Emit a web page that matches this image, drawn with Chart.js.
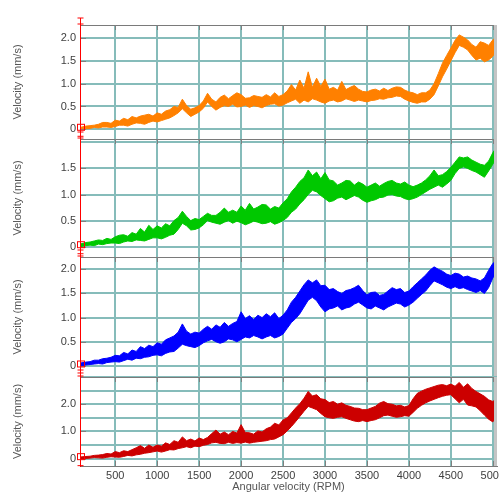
<!DOCTYPE html>
<html>
<head>
<meta charset="utf-8">
<script src="https://cdn.jsdelivr.net/npm/chart.js@4.4.1/dist/chart.umd.min.js"></script>
<style>
  html, body { margin: 0; padding: 0; background: #fff; }
  #wrap { position: relative; width: 499px; height: 496px; overflow: hidden; }
  #wrap canvas { position: absolute; left: 0; }
</style>
</head>
<body>
<div id="wrap">
  <canvas id="p1"></canvas>
  <canvas id="p2"></canvas>
  <canvas id="p3"></canvas>
  <canvas id="p4"></canvas>
</div>
<script>
// shared x samples (RPM)
const rpm = [
  80, 150, 200, 250, 300, 350, 400, 450, 500, 550,
  600, 650, 700, 750, 800, 850, 900, 950, 1000, 1050,
  1100, 1150, 1200, 1250, 1300, 1350, 1400, 1450, 1500, 1550,
  1600, 1650, 1700, 1750, 1800, 1850, 1900, 1950, 2000, 2050,
  2100, 2150, 2200, 2250, 2300, 2350, 2400, 2450, 2500, 2550,
  2600, 2650, 2700, 2750, 2800, 2850, 2900, 2950, 3000, 3050,
  3100, 3150, 3200, 3250, 3300, 3350, 3400, 3450, 3500, 3550,
  3600, 3650, 3700, 3750, 3800, 3850, 3900, 3950, 4000, 4050,
  4100, 4150, 4200, 4250, 4300, 4350, 4400, 4450, 4500, 4550,
  4600, 4650, 4700, 4750, 4800, 4850, 4900, 4950, 5000, 5050
];

// each trace is a noisy band: lower and upper edge of the signal, mm/s
const orangeLow = [
  0.00, 0.01, 0.02, 0.04, 0.03, 0.05, 0.05, 0.04, 0.06, 0.09,
  0.09, 0.07, 0.11, 0.14, 0.13, 0.11, 0.15, 0.18, 0.16, 0.19,
  0.22, 0.25, 0.30, 0.36, 0.45, 0.36, 0.28, 0.33, 0.38, 0.46,
  0.60, 0.50, 0.42, 0.48, 0.52, 0.50, 0.55, 0.49, 0.50, 0.53,
  0.48, 0.52, 0.50, 0.47, 0.52, 0.55, 0.56, 0.51, 0.53, 0.58,
  0.62, 0.66, 0.57, 0.64, 0.60, 0.67, 0.64, 0.60, 0.57, 0.62,
  0.64, 0.60, 0.62, 0.67, 0.64, 0.61, 0.64, 0.62, 0.60, 0.63,
  0.64, 0.67, 0.66, 0.69, 0.70, 0.73, 0.72, 0.66, 0.62, 0.59,
  0.57, 0.60, 0.60, 0.66, 0.76, 0.95, 1.15, 1.32, 1.50, 1.68,
  1.84, 1.80, 1.74, 1.62, 1.52, 1.56, 1.48, 1.52, 1.60, 1.78
];
const orangeHigh = [
  0.04, 0.07, 0.08, 0.09, 0.11, 0.15, 0.15, 0.13, 0.20, 0.18,
  0.24, 0.21, 0.28, 0.25, 0.29, 0.31, 0.33, 0.29, 0.36, 0.33,
  0.40, 0.43, 0.50, 0.48, 0.66, 0.52, 0.44, 0.47, 0.52, 0.62,
  0.79, 0.66, 0.60, 0.70, 0.75, 0.67, 0.74, 0.80, 0.76, 0.68,
  0.69, 0.74, 0.72, 0.70, 0.76, 0.71, 0.80, 0.72, 0.76, 0.84,
  0.98, 0.86, 1.08, 0.90, 1.26, 0.92, 1.12, 0.94, 1.10, 0.88,
  0.92, 0.86, 1.05, 0.87, 0.92, 0.96, 0.88, 0.83, 0.82, 0.86,
  0.88, 0.84, 0.90, 0.85, 0.90, 0.93, 0.92, 0.86, 0.82, 0.80,
  0.76, 0.80, 0.80, 0.86, 1.00, 1.22, 1.45, 1.62, 1.78, 1.95,
  2.07, 2.02, 1.96, 1.86, 1.80, 1.92, 1.89, 1.84, 1.96, 2.04
];

const greenLow = [
  0.00, 0.02, 0.03, 0.02, 0.05, 0.04, 0.06, 0.07, 0.07, 0.06,
  0.09, 0.11, 0.10, 0.13, 0.12, 0.11, 0.14, 0.17, 0.17, 0.15,
  0.18, 0.22, 0.24, 0.33, 0.45, 0.40, 0.32, 0.33, 0.36, 0.42,
  0.50, 0.47, 0.45, 0.43, 0.47, 0.50, 0.45, 0.49, 0.46, 0.42,
  0.45, 0.49, 0.47, 0.44, 0.45, 0.48, 0.43, 0.46, 0.50, 0.56,
  0.66, 0.72, 0.82, 0.90, 1.00, 1.08, 1.05, 0.98, 0.92, 0.86,
  0.88, 0.93, 0.95, 0.90, 0.94, 0.98, 0.95, 0.89, 0.85, 0.88,
  0.90, 0.94, 0.95, 0.99, 1.00, 0.97, 0.96, 0.92, 0.90, 0.92,
  0.95, 1.00, 1.05, 1.10, 1.14, 1.18, 1.14, 1.20, 1.27, 1.40,
  1.50, 1.53, 1.50, 1.46, 1.43, 1.38, 1.33, 1.45, 1.58, 1.72
];
const greenHigh = [
  0.05, 0.08, 0.09, 0.11, 0.13, 0.12, 0.16, 0.14, 0.19, 0.22,
  0.23, 0.20, 0.27, 0.24, 0.35, 0.28, 0.41, 0.33, 0.40, 0.36,
  0.44, 0.40, 0.50, 0.56, 0.68, 0.58, 0.50, 0.54, 0.52, 0.58,
  0.64, 0.60, 0.60, 0.66, 0.74, 0.66, 0.70, 0.66, 0.78, 0.70,
  0.83, 0.72, 0.76, 0.81, 0.80, 0.72, 0.77, 0.74, 0.84, 0.92,
  1.05, 1.14, 1.25, 1.32, 1.47, 1.36, 1.43, 1.30, 1.42, 1.28,
  1.26, 1.18, 1.22, 1.27, 1.26, 1.18, 1.24, 1.20, 1.14, 1.18,
  1.22, 1.16, 1.21, 1.25, 1.27, 1.22, 1.20, 1.24, 1.18, 1.15,
  1.18, 1.22, 1.28, 1.36, 1.47, 1.36, 1.38, 1.44, 1.52, 1.62,
  1.72, 1.70, 1.72, 1.66, 1.62, 1.58, 1.56, 1.64, 1.80, 1.92
];

const blueLow = [
  0.00, 0.02, 0.03, 0.04, 0.05, 0.04, 0.07, 0.08, 0.09, 0.08,
  0.11, 0.14, 0.12, 0.16, 0.15, 0.18, 0.19, 0.22, 0.23, 0.21,
  0.26, 0.29, 0.30, 0.37, 0.45, 0.42, 0.40, 0.38, 0.42, 0.48,
  0.52, 0.55, 0.50, 0.47, 0.50, 0.56, 0.54, 0.50, 0.55, 0.60,
  0.58, 0.63, 0.60, 0.56, 0.60, 0.63, 0.58, 0.61, 0.66, 0.78,
  0.90, 0.98, 1.08, 1.22, 1.36, 1.42, 1.35, 1.22, 1.12, 1.18,
  1.20, 1.24, 1.16, 1.20, 1.22, 1.28, 1.32, 1.26, 1.20, 1.18,
  1.24, 1.20, 1.16, 1.22, 1.26, 1.30, 1.28, 1.22, 1.26, 1.32,
  1.40, 1.48, 1.55, 1.66, 1.76, 1.72, 1.68, 1.63, 1.60, 1.64,
  1.60, 1.62, 1.58, 1.55, 1.52, 1.56, 1.50, 1.62, 1.82, 1.96
];
const blueHigh = [
  0.06, 0.08, 0.09, 0.12, 0.12, 0.15, 0.16, 0.18, 0.22, 0.21,
  0.28, 0.25, 0.33, 0.30, 0.40, 0.36, 0.43, 0.40, 0.48, 0.45,
  0.54, 0.58, 0.62, 0.70, 0.87, 0.72, 0.66, 0.70, 0.68, 0.76,
  0.82, 0.76, 0.85, 0.80, 0.90, 0.82, 0.88, 0.92, 1.12, 0.98,
  1.04, 0.96, 1.05, 1.00, 1.08, 1.02, 1.10, 0.98, 1.05, 1.16,
  1.32, 1.42, 1.55, 1.68, 1.78, 1.72, 1.78, 1.66, 1.67, 1.58,
  1.60, 1.54, 1.50, 1.56, 1.58, 1.62, 1.67, 1.56, 1.47, 1.52,
  1.53, 1.46, 1.48, 1.55, 1.62, 1.58, 1.60, 1.52, 1.55, 1.64,
  1.72, 1.80, 1.88, 1.98, 2.05, 2.00, 1.96, 1.90, 1.87, 1.92,
  1.90, 1.84, 1.86, 1.82, 1.80, 1.76, 1.82, 1.98, 2.12, 2.20
];

const redLow = [
  0.00, 0.01, 0.02, 0.04, 0.03, 0.02, 0.05, 0.07, 0.06, 0.05,
  0.08, 0.12, 0.10, 0.14, 0.16, 0.20, 0.22, 0.25, 0.28, 0.24,
  0.28, 0.33, 0.32, 0.37, 0.40, 0.44, 0.40, 0.46, 0.44, 0.49,
  0.52, 0.58, 0.60, 0.56, 0.55, 0.60, 0.56, 0.59, 0.57, 0.61,
  0.57, 0.60, 0.62, 0.64, 0.66, 0.70, 0.72, 0.80, 0.88, 1.02,
  1.18, 1.36, 1.55, 1.74, 1.92, 1.86, 1.80, 1.66, 1.54, 1.50,
  1.48, 1.52, 1.54, 1.48, 1.43, 1.38, 1.36, 1.40, 1.36, 1.40,
  1.43, 1.50, 1.58, 1.60, 1.56, 1.52, 1.54, 1.58, 1.56, 1.70,
  1.85, 1.96, 2.05, 2.12, 2.18, 2.24, 2.29, 2.33, 2.35, 2.20,
  2.05, 2.18, 1.97, 1.94, 1.90, 1.76, 1.60, 1.45, 1.35, 1.60
];
const redHigh = [
  0.06, 0.08, 0.09, 0.12, 0.13, 0.15, 0.19, 0.17, 0.26, 0.22,
  0.29, 0.26, 0.33, 0.40, 0.48, 0.38, 0.50, 0.42, 0.50, 0.46,
  0.58, 0.52, 0.66, 0.60, 0.80, 0.66, 0.72, 0.65, 0.76, 0.70,
  0.78, 0.92, 1.05, 0.90, 0.98, 0.88, 1.00, 0.94, 1.25, 0.96,
  0.95, 0.90, 1.02, 0.98, 1.10, 1.16, 1.30, 1.24, 1.42, 1.50,
  1.68, 1.86, 2.02, 2.22, 2.47, 2.30, 2.35, 2.20, 2.17, 2.06,
  2.10, 2.00, 2.05, 1.96, 1.92, 1.86, 1.85, 1.80, 1.80, 1.86,
  1.92, 2.04, 2.10, 2.02, 2.00, 1.94, 1.96, 1.90, 1.95, 2.20,
  2.40, 2.48, 2.55, 2.60, 2.65, 2.70, 2.72, 2.68, 2.74, 2.66,
  2.80, 2.62, 2.75, 2.58, 2.47, 2.38, 2.29, 2.16, 2.10, 2.22
];

// RPM ticks shared by all panels
const rpmTicks = [500, 1000, 1500, 2000, 2500, 3000, 3500, 4000, 4500, 5000];

// grid lines and labelled values on each velocity axis
const panel1Grid = [0, 0.5, 1, 1.5, 2];
const panel2Grid = [0, 0.5, 1, 1.5, 2];
const panel3Grid = [0, 0.5, 1, 1.5, 2];
const panel4Grid = [0, 0.5, 1, 1.5, 2, 2.5, 3];
const panel1Ticks = [0, 0.5, 1, 1.5, 2];
const panel2Ticks = [0, 0.5, 1, 1.5];
const panel3Ticks = [0, 0.5, 1, 1.5, 2];
const panel4Ticks = [0, 1, 2];

const FONT = "'Liberation Sans', Arial, sans-serif";
const GRID = '#86bcba';
const PAD_TOP = 8;

const panels = [
  { id: 'p1', top: 25,  bottom: 139, min: -0.213, max: 2.287, color: '#ff8000', lo: orangeLow, hi: orangeHigh, grid: panel1Grid, ticks: panel1Ticks },
  { id: 'p2', top: 139, bottom: 257, min: -0.197, max: 2.063, color: '#00c800', lo: greenLow,  hi: greenHigh,  grid: panel2Grid, ticks: panel2Ticks },
  { id: 'p3', top: 257, bottom: 377, min: -0.228, max: 2.254, color: '#0000ff', lo: blueLow,   hi: blueHigh,   grid: panel3Grid, ticks: panel3Ticks },
  { id: 'p4', top: 377, bottom: 466, min: -0.27,  max: 3.0,   color: '#cc0000', lo: redLow,    hi: redHigh,    grid: panel4Grid, ticks: panel4Ticks, last: true }
];

// frame, inward tick marks and the red cursor on the left edge
const framePlugin = {
  id: 'frame',
  afterDatasetsDraw(chart) {
    const { ctx, chartArea: a, scales } = chart;
    const opts = chart.options.plugins.frame;
    ctx.save();
    // top border
    ctx.strokeStyle = '#7a7a7a';
    ctx.lineWidth = 1;
    ctx.beginPath();
    ctx.moveTo(a.left, a.top + 0.5);
    ctx.lineTo(a.right, a.top + 0.5);
    ctx.stroke();
    // right edge
    ctx.fillStyle = '#c4c4c4';
    ctx.fillRect(a.right - 3, a.top, 3, a.bottom - a.top);
    // x tick marks pointing inward
    ctx.strokeStyle = '#808080';
    ctx.beginPath();
    rpmTicks.forEach(v => {
      const px = Math.round(scales.x.getPixelForValue(v)) + 0.5;
      ctx.moveTo(px, a.top); ctx.lineTo(px, a.top + 5);
      if (opts.last) { ctx.moveTo(px, a.bottom); ctx.lineTo(px, a.bottom - 5); }
    });
    // y tick marks at labelled values
    opts.ticks.forEach(v => {
      const py = Math.round(scales.y.getPixelForValue(v)) + 0.5;
      ctx.moveTo(a.left, py); ctx.lineTo(a.left + 6, py);
    });
    ctx.stroke();
    // cursor
    const cx = a.left + 0.5;
    const y0 = scales.y.getPixelForValue(0);
    ctx.strokeStyle = '#ff0000';
    ctx.beginPath();
    ctx.moveTo(cx, a.top - 7); ctx.lineTo(cx, a.bottom);
    ctx.moveTo(cx - 3, a.top - 7); ctx.lineTo(cx + 3, a.top - 7);
    ctx.moveTo(cx - 3, a.top - 1); ctx.lineTo(cx + 3, a.top - 1);
    ctx.moveTo(cx - 3, y0 + 7); ctx.lineTo(cx + 3, y0 + 7);
    ctx.stroke();
    ctx.strokeRect(cx - 3, y0 - 5, 7, 6);
    ctx.restore();
  }
};

panels.forEach(p => {
  const canvas = document.getElementById(p.id);
  const h = p.bottom - p.top + PAD_TOP + (p.last ? 30 : 0);
  canvas.width = 499;
  canvas.height = h;
  canvas.style.top = (p.top - PAD_TOP) + 'px';

  const lowPts = rpm.map((x, i) => ({ x, y: p.lo[i] }));
  const highPts = rpm.map((x, i) => ({ x, y: p.hi[i] }));

  new Chart(canvas, {
    type: 'line',
    data: {
      datasets: [
        { data: lowPts, borderColor: p.color, borderWidth: 1, fill: false },
        { data: highPts, borderColor: p.color, borderWidth: 1, backgroundColor: p.color, fill: '-1' }
      ]
    },
    options: {
      responsive: false,
      animation: false,
      events: [],
      layout: { padding: { top: PAD_TOP, right: 2, left: 0, bottom: 0 } },
      elements: { point: { radius: 0 }, line: { tension: 0 } },
      plugins: {
        legend: { display: false },
        tooltip: { enabled: false },
        frame: { ticks: p.ticks, last: !!p.last }
      },
      scales: {
        x: {
          type: 'linear',
          min: 80,
          max: 5050,
          afterBuildTicks: s => { s.ticks = rpmTicks.map(v => ({ value: v })); },
          afterFit: s => {
            s.height = p.last ? 30 : 0;
            s.paddingLeft = 0;
            s.paddingRight = 0;
          },
          ticks: {
            display: !!p.last,
            autoSkip: false,
            maxRotation: 0,
            padding: 3,
            color: '#404040',
            font: { family: FONT, size: 11 },
            callback: v => String(v)
          },
          grid: { color: GRID, lineWidth: 2, drawTicks: false },
          border: { display: !!p.last, color: '#7a7a7a' },
          title: {
            display: !!p.last,
            text: 'Angular velocity (RPM)',
            color: '#555',
            font: { family: FONT, size: 11 },
            padding: { top: 0, bottom: 2 }
          }
        },
        y: {
          min: p.min,
          max: p.max,
          afterBuildTicks: s => { s.ticks = p.grid.map(v => ({ value: v })); },
          afterFit: s => {
            s.width = 80;
            s.paddingTop = 0;
            s.paddingBottom = 0;
          },
          ticks: {
            autoSkip: false,
            padding: 4,
            color: '#404040',
            font: { family: FONT, size: 11 },
            callback: v => p.ticks.includes(v) ? (v === 0 ? '0' : v.toFixed(1)) : ''
          },
          grid: { color: GRID, lineWidth: 2, drawTicks: false },
          border: { color: '#ff0000', width: 1 },
          title: {
            display: true,
            text: 'Velocity (mm/s)',
            color: '#555',
            font: { family: FONT, size: 11 },
            padding: { top: 11, bottom: 0 }
          }
        }
      }
    },
    plugins: [framePlugin]
  });
});
</script>
</body>
</html>
